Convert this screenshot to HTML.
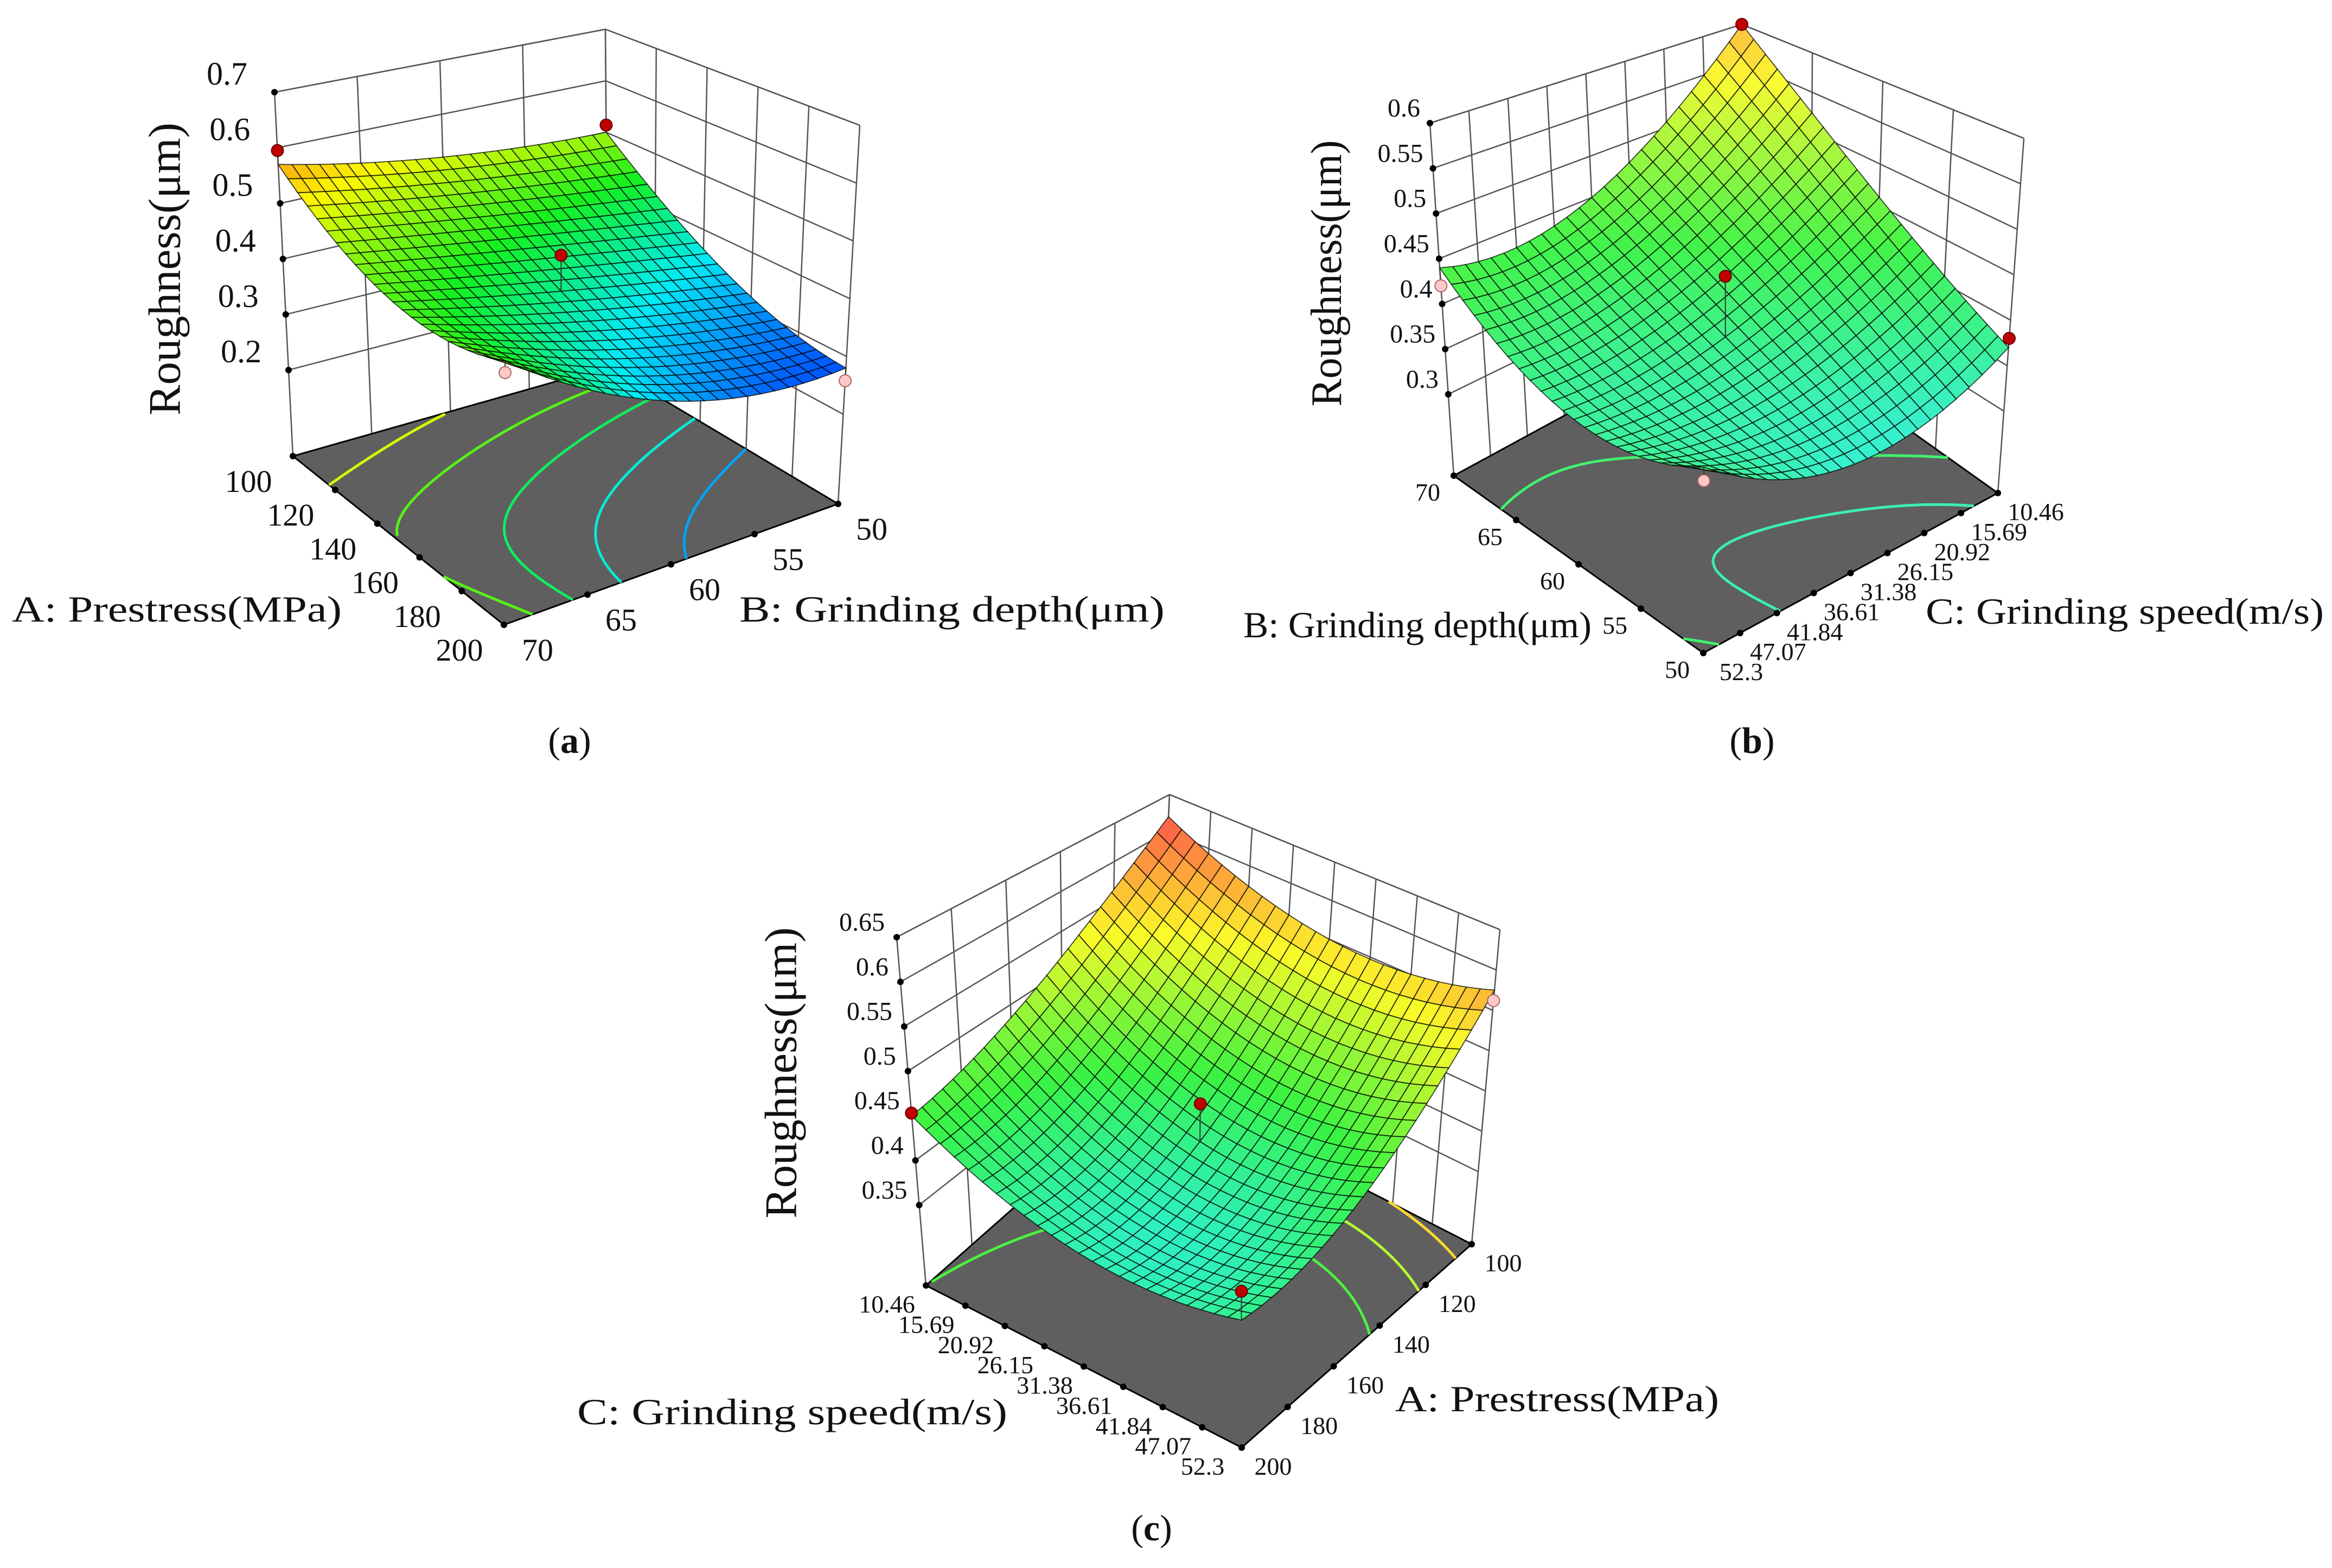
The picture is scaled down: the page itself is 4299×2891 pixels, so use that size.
<!DOCTYPE html>
<html><head><meta charset="utf-8"><style>
html,body{margin:0;padding:0;background:#fff;}
svg{display:block;}
text{font-family:"Liberation Serif",serif;fill:#111;}
</style></head><body>
<svg id="fig" xmlns="http://www.w3.org/2000/svg" width="4299" height="2891" viewBox="0 0 4299 2891">
<rect x="0" y="0" width="4299" height="2891" fill="#fff"/>
<g id="layer"></g>
<g>
<text transform="translate(304,496) rotate(-90)" text-anchor="middle" dominant-baseline="central" font-size="84" textLength="540" lengthAdjust="spacingAndGlyphs">Roughness(μm)</text>
<text x="22" y="1146" font-size="68" textLength="608" lengthAdjust="spacingAndGlyphs">A: Prestress(MPa)</text>
<text x="1363" y="1146" font-size="68" textLength="784" lengthAdjust="spacingAndGlyphs">B: Grinding depth(μm)</text>
<text x="1050" y="1388" font-size="68" text-anchor="middle">(<tspan font-weight="bold">a</tspan>)</text>

<text transform="translate(2446,504) rotate(-90)" text-anchor="middle" dominant-baseline="central" font-size="80" textLength="491" lengthAdjust="spacingAndGlyphs">Roughness(μm)</text>
<text x="2292" y="1175" font-size="68" textLength="642" lengthAdjust="spacingAndGlyphs">B: Grinding depth(μm)</text>
<text x="3550" y="1150" font-size="68" textLength="734" lengthAdjust="spacingAndGlyphs">C: Grinding speed(m/s)</text>
<text x="3230" y="1388" font-size="68" text-anchor="middle">(<tspan font-weight="bold">b</tspan>)</text>

<text transform="translate(1440,1978) rotate(-90)" text-anchor="middle" dominant-baseline="central" font-size="84" textLength="537" lengthAdjust="spacingAndGlyphs">Roughness(μm)</text>
<text x="1064" y="2626" font-size="68" textLength="793" lengthAdjust="spacingAndGlyphs">C: Grinding speed(m/s)</text>
<text x="2572" y="2602" font-size="68" textLength="597" lengthAdjust="spacingAndGlyphs">A: Prestress(MPa)</text>
<text x="2123" y="2840" font-size="68" text-anchor="middle">(<tspan font-weight="bold">c</tspan>)</text>
</g>
</svg>
<script>
// ---- data (3x3 response grids: rows along p-axis, cols along q-axis) ----
const gridA = [[0.57,0.52,0.50],[0.47,0.40,0.34],[0.51,0.33,0.28]];
const gridB = [[0.44,0.45,0.60],[0.37,0.38,0.46],[0.415,0.33,0.37]];
const gridC = [[0.45,0.50,0.62],[0.39,0.41,0.55],[0.41,0.44,0.575]];
const aZTicks = ["0.2","0.3","0.4","0.5","0.6","0.7"];
const aPTicks = ["100","120","140","160","180","200"];
const aQTicks = ["70","65","60","55","50"];
const bZTicks = ["0.3","0.35","0.4","0.45","0.5","0.55","0.6"];
const bPTicks = ["70","65","60","55","50"];
const bQTicks = ["52.3","47.07","41.84","36.61","31.38","26.15","20.92","15.69","10.46"];
const cZTicks = ["0.35","0.4","0.45","0.5","0.55","0.6","0.65"];
const cPTicks = ["10.46","15.69","20.92","26.15","31.38","36.61","41.84","47.07","52.3"];
const cQTicks = ["200","180","160","140","120","100"];
const aLevels = [0.32,0.37,0.42,0.47,0.52];
const bLevels = [0.355,0.40];
const cLevels = [0.45,0.50,0.55];
// design points: p, q, value
const aPointP = [0,0,0.5,1,1];
const aPointQ = [0,1,0.5,0,1];
const aPointZ = [0.595,0.514,0.465,0.49,0.258];
const bPointP = [0,0.5,1,0,1];
const bPointQ = [1,0.5,1,0,0];
const bPointZ = [0.6,0.45,0.38,0.42,0.40];
const cPointP = [0,0.5,1,1];
const cPointQ = [0,0.5,0,1];
const cPointZ = [0.453,0.456,0.444,0.562];

const NS = "http://www.w3.org/2000/svg";
const layer = document.getElementById('layer');
function mk(tag, attrs, parent){const e=document.createElementNS(NS,tag);for(const k in attrs)e.setAttribute(k,attrs[k]);(parent||layer).appendChild(e);return e;}

const panels = [
 {id:'a', zmin:0.045, zmax:0.7, bot:{L:[540,841],F:[929,1152],R:[1545,929],B:[1121,676]}, top:{L:[506,170],R:[1585,231],B:[1116,54]},
  grid:gridA, zTicks:aZTicks, pTicks:aPTicks, qTicks:aQTicks, leftDiv:4, rightDiv:5, zOff:[-50,-14], pOff:[-82,66], qOff:[62,66], font:58, zFont:60, light:0, cLo:0.27, cHi:0.62, levels:aLevels, pp:aPointP, pq:aPointQ, pz:aPointZ, rad:11},
 {id:'b', zmin:0.21, zmax:0.6, bot:{L:[2680,877],F:[3140,1204],R:[3683,909],B:[3223,582]}, top:{L:[2636,227],R:[3731,255],B:[3211,45]},
  grid:gridB, zTicks:bZTicks, pTicks:bPTicks, qTicks:bQTicks, leftDiv:8, rightDiv:4, zOff:[-18,-12], pOff:[-48,46], qOff:[70,50], font:46, zFont:48, light:0.2, cLo:0.18, cHi:0.67, levels:bLevels, pp:bPointP, pq:bPointQ, pz:bPointZ, rad:11},
 {id:'c', zmin:0.26, zmax:0.65, bot:{L:[1707,2370],F:[2289,2669],R:[2713,2294],B:[2131,1995]}, top:{L:[1653,1728],R:[2765,1714],B:[2156,1465]},
  grid:gridC, zTicks:cZTicks, pTicks:cPTicks, qTicks:cQTicks, leftDiv:5, rightDiv:8, zOff:[-22,-12], pOff:[-72,50], qOff:[58,50], font:46, zFont:48, light:0.16, cLo:0.266, cHi:0.62, levels:cLevels, pp:cPointP, pq:cPointQ, pz:cPointZ, rad:11}
];

function bil(c,p,q){return [(1-p)*(1-q)*c.L[0]+p*(1-q)*c.F[0]+p*q*c.R[0]+(1-p)*q*c.B[0],(1-p)*(1-q)*c.L[1]+p*(1-q)*c.F[1]+p*q*c.R[1]+(1-p)*q*c.B[1]];}
function proj(P,p,q,z){const t=(z-P.zmin)/(P.zmax-P.zmin);const a=bil(P.bot,p,q),b=bil(P.top,p,q);return [a[0]+(b[0]-a[0])*t,a[1]+(b[1]-a[1])*t];}
function Lg(s){return [2*(s-0.5)*(s-1),-4*s*(s-1),2*s*(s-0.5)];}
function surf(P,p,q){const lp=Lg(p),lq=Lg(q);let v=0;for(let i=0;i<3;i++)for(let j=0;j<3;j++)v+=P.grid[i][j]*lp[i]*lq[j];return v;}
const stops=[[0,[0,70,255]],[0.25,[0,235,245]],[0.5,[20,240,30]],[0.75,[250,250,0]],[1,[255,50,40]]];
function col(P,z){let t=(z-P.cLo)/(P.cHi-P.cLo);t=Math.max(0,Math.min(1,t));let k=0;while(k<stops.length-2&&t>stops[k+1][0])k++;const a=stops[k],b=stops[k+1];const u=(t-a[0])/(b[0]-a[0]);const c=[0,1,2].map(i=>a[1][i]+(b[1][i]-a[1][i])*u);const l=P.light;return 'rgb('+c.map(v=>Math.round(v+(255-v)*l)).join(',')+')';}
function pt(a){return a[0].toFixed(1)+','+a[1].toFixed(1);}

panels.forEach(P=>{
  const bot=P.bot,top=P.top;
  top.F=[bot.F[0]+((top.L[0]-bot.L[0])+(top.R[0]-bot.R[0]))/2, bot.F[1]+((top.L[1]-bot.L[1])+(top.R[1]-bot.R[1]))/2];
  const N=24;
  const g=mk('g',{});
  
  
  const zt=P.zTicks.map(Number);
  const walls=mk('g',{stroke:'#555','stroke-width':2.5,fill:'none'},g);
  
  
  for(let k=0;k<=P.leftDiv;k++){const q=k/P.leftDiv;const l=mk('line',{x1:proj(P,0,q,P.zmin)[0],y1:proj(P,0,q,P.zmin)[1],x2:proj(P,0,q,P.zmax)[0],y2:proj(P,0,q,P.zmax)[1]},walls);
    
    }
  for(let k=0;k<=P.rightDiv;k++){const p=k/P.rightDiv;const l=mk('line',{x1:proj(P,p,1,P.zmin)[0],y1:proj(P,p,1,P.zmin)[1],x2:proj(P,p,1,P.zmax)[0],y2:proj(P,p,1,P.zmax)[1]},walls);
    
    }
  zt.concat([P.zmax]).forEach(z=>{
    const a=proj(P,0,0,z),b=proj(P,0,1,z),c=proj(P,1,1,z);
    const l=mk('polyline',{points:pt(a)+' '+pt(b)+' '+pt(c)},walls);
    
    
  });
  P.zTicks.forEach((s,k)=>{
    const a=proj(P,0,0,zt[k]);
    const d=mk('circle',{cx:a[0],cy:a[1],r:6,fill:'#000'},g);
    
    
    const t=mk('text',{x:a[0]+P.zOff[0],y:a[1]+P.zOff[1],'font-size':P.zFont,'text-anchor':'end'},g);
    t.textContent=s;
    
    
  });
  const fl=mk('polygon',{points:[proj(P,0,0,P.zmin),proj(P,1,0,P.zmin),proj(P,1,1,P.zmin),proj(P,0,1,P.zmin)].map(pt).join(' '),fill:'#5f5f5f',stroke:'#000','stroke-width':3},g);
  
  
  const M=48,f=[];
  for(let i=0;i<=M;i++){f.push([]);for(let j=0;j<=M;j++)f[i].push(surf(P,i/M,j/M));}
  P.levels.forEach(L=>{
    let d='';
    for(let i=0;i<M;i++)for(let j=0;j<M;j++){
      const cs=[[i,j],[i+1,j],[i+1,j+1],[i,j+1]];const ps=[];
      for(let e=0;e<4;e++){const A=cs[e],B=cs[(e+1)%4];const va=f[A[0]][A[1]],vb=f[B[0]][B[1]];
        if((va-L)*(vb-L)<0){const u=(L-va)/(vb-va);ps.push(proj(P,(A[0]+(B[0]-A[0])*u)/M,(A[1]+(B[1]-A[1])*u)/M,P.zmin));}}
      if(ps.length>=2)d+='M'+pt(ps[0])+'L'+pt(ps[1]);
      if(ps.length==4)d+='M'+pt(ps[2])+'L'+pt(ps[3]);
    }
    const c=mk('path',{d:d,stroke:col(P,L),'stroke-width':5,fill:'none'},g);
    
    
  });
  P.pTicks.forEach((s,k)=>{const p=k/(P.pTicks.length-1);const a=proj(P,p,0,P.zmin);
    const d=mk('circle',{cx:a[0],cy:a[1],r:6,fill:'#000'},g);
    
    
    const t=mk('text',{x:a[0]+P.pOff[0],y:a[1]+P.pOff[1],'font-size':P.font,'text-anchor':'middle'},g);
    t.textContent=s;
    
    });
  P.qTicks.forEach((s,k)=>{const q=k/(P.qTicks.length-1);const a=proj(P,1,q,P.zmin);
    const d=mk('circle',{cx:a[0],cy:a[1],r:6,fill:'#000'},g);
    
    
    const t=mk('text',{x:a[0]+P.qOff[0],y:a[1]+P.qOff[1],'font-size':P.font,'text-anchor':'middle'},g);
    t.textContent=s;
    
    });
  const cells=[];
  for(let i=0;i<N;i++)for(let j=0;j<N;j++)cells.push([i,j]);
  cells.sort((a,b)=>(a[0]-a[1])-(b[0]-b[1]));
  const sg=mk('g',{stroke:'#000','stroke-width':1.8,'stroke-opacity':0.75},g);
  
  
  cells.forEach(([i,j])=>{
    const c4=[[i,j],[i+1,j],[i+1,j+1],[i,j+1]].map(([a,b])=>proj(P,a/N,b/N,surf(P,a/N,b/N)));
    const zc=surf(P,(i+0.5)/N,(j+0.5)/N);
    const poly=mk('polygon',{points:c4.map(pt).join(' '),fill:col(P,zc)},sg);
    
    
  });
  P.pz.forEach((z,k)=>{
    const p=P.pp[k],q=P.pq[k];const s=surf(P,p,q);const a=proj(P,p,q,z),b=proj(P,p,q,s);
    const ln=mk('line',{x1:a[0],y1:a[1],x2:b[0],y2:b[1],stroke:'#333','stroke-width':2},g);
    
    
    const c=mk('circle',{cx:a[0],cy:a[1],r:P.rad,fill:z>=s?'#c00000':'#ffc8c8',stroke:z>=s?'#600':'#a66','stroke-width':2},g);
    
    
  });
});
</script>
</body></html>
